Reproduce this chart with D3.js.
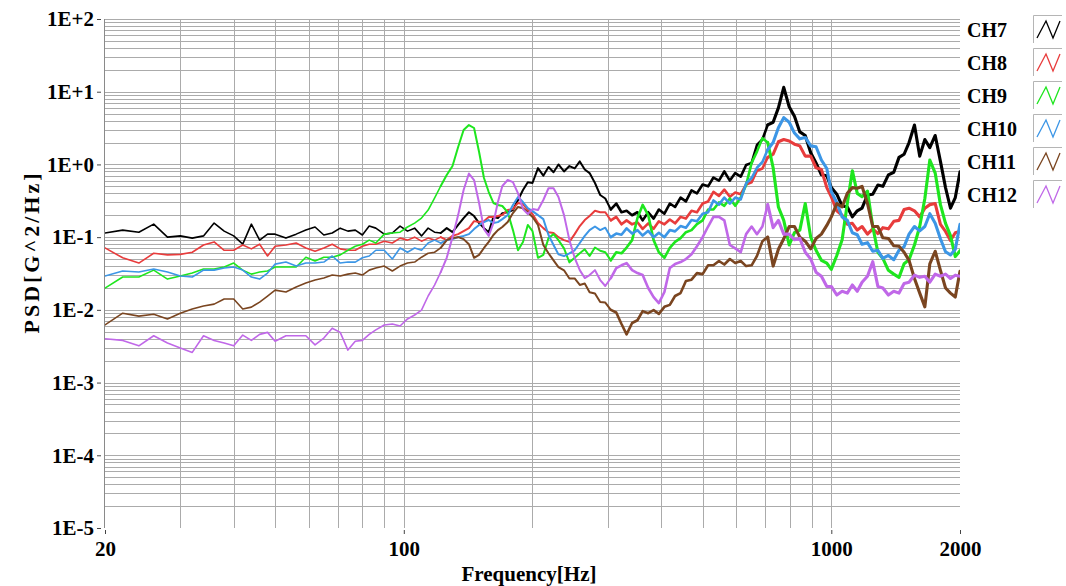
<!DOCTYPE html>
<html>
<head>
<meta charset="utf-8">
<script src="https://d3js.org/d3.v7.min.js"></script>
<style>
  body { margin: 0; background: #fff; }
  text { font-family: "Liberation Serif", "Times New Roman", serif; font-weight: bold; fill: #000; }
</style>
</head>
<body>
<svg id="chart" width="1066" height="586"></svg>
<script>
// frequency points (Hz)
var freqs = [20,22,24,26,28,30,32,34,36,38,40,42,44,46,48,50,53,56,59,62,65,68,71,74,77,80,83,86,90,94,98,
  102,106,110,114,118,122,126,130,134,138,142,146,150,154,158,162,166,170,175,180,185,190,195,
  200,206,212,218,224,230,237,244,251,258,265,272,280,288,296,305,314,323,332,342,352,362,373,384,395,407,419,431,444,457,471,485,
  500,515,530,546,562,579,596,614,632,651,670,690,710,731,752,774,797,820,844,869,895,921,948,976,
  1000,1030,1060,1090,1120,1150,1180,1215,1250,1285,1320,1360,1400,1440,1480,1520,1565,1610,1655,1700,1750,1800,1850,1900,1950,2000];

// PSD values, G^2/Hz
var ch7 = [.114,.125,.117,.151,.100,.104,.097,.104,.156,.121,.104,.080,.151,.091,.110,.110,.097,.110,.125,.138,.107,.114,.133,.121,.125,.107,.142,.133,.110,.114,.142,
  .121,.133,.104,.133,.117,.114,.133,.117,.147,.183,.22,.195,.156,.133,.117,.189,.183,.214,.22,.236,.324,.445,.57,
  .555,.89,.70,.92,.78,1.0,.80,.95,.88,1.1,.85,.76,.555,.38,.34,.24,.29,.22,.23,.20,.22,.17,.22,.18,.24,.21,.29,.26,.35,.31,.44,.40,
  .53,.50,.66,.60,.80,.60,.76,.68,.98,1.05,1.85,2.2,3.5,3.8,6.0,11.5,6.2,4.6,2.8,2.5,1.45,1.05,.72,.70,
  .48,.39,.27,.26,.19,.23,.25,.38,.39,.52,.50,.72,.78,1.25,1.38,2.0,3.48,1.3,2.2,1.7,2.5,1.1,.48,.25,.35,.79];

var ch8 = [.071,.052,.044,.060,.057,.058,.062,.078,.086,.066,.066,.078,.069,.080,.055,.075,.078,.083,.071,.064,.071,.080,.069,.066,.066,.075,.080,.080,.088,.083,.097,
  .091,.100,.088,.097,.091,.100,.091,.104,.110,.121,.133,.166,.161,.166,.189,.189,.195,.201,.236,.243,.295,.285,.236,
  .208,.156,.133,.117,.114,.100,.091,.086,.110,.142,.172,.195,.23,.22,.22,.17,.19,.15,.17,.15,.16,.13,.155,.13,.165,.15,.175,.155,.19,.18,.23,.22,
  .29,.31,.42,.37,.45,.36,.41,.39,.53,.57,.82,.88,1.25,1.38,2.05,2.2,2.1,1.9,1.8,1.3,1.3,.9,.85,.48,
  .36,.23,.20,.15,.155,.125,.14,.11,.13,.112,.135,.13,.165,.17,.24,.25,.23,.19,.25,.28,.29,.15,.12,.09,.115,.12];

var ch9 = [.0199,.0283,.0283,.0352,.0265,.0292,.0321,.0364,.0364,.0388,.044,.0352,.031,.0331,.0342,.0388,.0388,.0388,.053,.047,.053,.053,.057,.066,.075,.080,.091,.083,.110,.114,.117,
  .138,.156,.183,.236,.345,.505,.714,.95,1.74,2.97,3.48,3.17,1.48,.65,.417,.295,.277,.268,.22,.125,.066,.086,.147,
  .121,.052,.057,.097,.110,.091,.070,.045,.052,.060,.068,.055,.072,.065,.062,.048,.062,.060,.072,.091,.183,.277,.201,.091,.062,.052,.071,.086,.097,.117,.125,.151,
  .17,.24,.24,.30,.27,.34,.27,.35,.52,1.05,1.5,2.3,2.0,.9,.26,.17,.078,.115,.125,.29,.10,.066,.048,.044,
  .036,.056,.092,.29,.82,.40,.36,.43,.14,.062,.051,.035,.031,.028,.043,.049,.078,.14,.34,1.15,.76,.28,.155,.105,.054,.065];

var ch10 = [.0292,.0342,.0331,.0364,.0331,.0292,.0283,.0352,.0352,.0376,.0388,.0352,.0283,.0265,.0321,.0426,.0454,.040,.044,.044,.0454,.055,.044,.0454,.0454,.052,.055,.066,.066,.050,.071,
  .062,.071,.066,.083,.091,.083,.091,.094,.100,.104,.110,.129,.147,.161,.172,.156,.161,.177,.201,.277,.356,.304,.25,
  .228,.201,.177,.107,.078,.058,.055,.060,.066,.083,.104,.125,.14,.125,.135,.10,.112,.108,.132,.112,.125,.105,.122,.10,.115,.10,.125,.12,.142,.135,.172,.165,
  .21,.22,.32,.28,.35,.29,.35,.33,.55,.65,.90,1.08,1.6,2.0,3.2,4.4,3.8,2.7,2.25,2.35,1.8,1.75,1.15,.88,
  .42,.30,.19,.17,.115,.108,.08,.084,.064,.066,.051,.056,.049,.066,.074,.11,.14,.122,.14,.21,.155,.095,.063,.057,.068,.15];

var ch11 = [.0062,.0090,.0082,.0087,.0075,.0090,.0103,.0113,.0120,.0141,.0141,.0103,.0109,.0128,.0155,.0187,.0176,.0206,.0234,.0257,.0274,.0301,.0292,.031,.0321,.0301,.0352,.0376,.040,.0342,.040,
  .044,.0454,.053,.060,.062,.071,.091,.097,.100,.094,.080,.052,.057,.071,.086,.107,.125,.138,.161,.214,.26,.25,.22,
  .189,.147,.078,.060,.048,.0388,.035,.027,.027,.022,.023,.0175,.0168,.0128,.0126,.0100,.0092,.0064,.0046,.0066,.0072,.0096,.0090,.0099,.0088,.0110,.0117,.0155,.0170,.0250,.0260,.0320,
  .031,.041,.041,.047,.042,.050,.044,.047,.040,.041,.055,.088,.10,.04,.068,.095,.14,.14,.10,.088,.069,.096,.11,.145,
  .19,.29,.26,.40,.48,.47,.50,.29,.14,.14,.098,.096,.076,.075,.062,.048,.027,.017,.011,.043,.064,.035,.020,.017,.015,.034];

var ch12 = [.0040,.0038,.0032,.0044,.0035,.0030,.0026,.0044,.0038,.0035,.0032,.0045,.0038,.0046,.0049,.0037,.0044,.0044,.0044,.0033,.0041,.0056,.0049,.0028,.0037,.0038,.0046,.0053,.0062,.0064,.0060,
  .0075,.0085,.0099,.0155,.0219,.0331,.052,.100,.201,.445,.75,.61,.295,.129,.104,.156,.304,.505,.61,.57,.40,.243,.208,
  .243,.236,.324,.47,.47,.356,.201,.091,.052,.0352,.0274,.0301,.0352,.0257,.0213,.0274,.0376,.041,.044,.0352,.0321,.0301,.020,.0150,.0124,.0176,.0376,.0426,.0454,.050,.058,.075,
  .10,.14,.19,.19,.17,.078,.07,.062,.11,.14,.11,.14,.28,.135,.17,.11,.11,.092,.096,.062,.05,.033,.029,.021,
  .021,.016,.018,.017,.022,.018,.024,.029,.046,.021,.020,.016,.018,.017,.023,.024,.030,.028,.029,.024,.031,.029,.031,.027,.030,.029];

var channelNames = ["CH7", "CH8", "CH9", "CH10", "CH11", "CH12"];
var channelColors = ["#000000", "#e83c3c", "#1ee61e", "#3c96e6", "#7a4520", "#c068e8"];
var channelValues = [ch7, ch8, ch9, ch10, ch11, ch12];

var yTicks = [1e-5, 1e-4, 1e-3, 1e-2, 1e-1, 1, 10, 100];
var yTickLabels = ["1E-5", "1E-4", "1E-3", "1E-2", "1E-1", "1E+0", "1E+1", "1E+2"];
var xTicks = [20, 100, 1000, 2000];
var xGridValues = [30, 40, 50, 60, 70, 80, 90, 100, 200, 300, 400, 500, 600, 700, 800, 900, 1000];

// the raw spectra get denser (and look thicker) towards high frequency,
// so each curve is drawn in pieces with a growing stroke width
var strokeBands = [[20, 122, 1.6], [122, 305, 2.0], [305, 710, 2.6], [710, 2000, 3.1]];

var svg = d3.select("#chart");

var x = d3.scaleLog().domain([20, 2000]).range([105, 960]);
var y = d3.scaleLog().domain([1e-5, 100]).range([528, 19]);

// horizontal grid: every 1..9 step of each decade, no line at 1E-5
var yGridValues = [];
yTicks.slice(0, -1).forEach(function(d) {
  for (var m = 1; m <= 9; m++) yGridValues.push(d * m);
});
yGridValues.push(100);
yGridValues = yGridValues.slice(1);

svg.append("g").selectAll("line")
  .data(yGridValues)
  .enter().append("line")
  .attr("x1", x(20))
  .attr("x2", x(2000))
  .attr("y1", function(d) { return Math.round(y(d)) + 0.5; })
  .attr("y2", function(d) { return Math.round(y(d)) + 0.5; })
  .style("stroke", "#ababab")
  .style("stroke-width", 1);

// vertical grid stops at 1000 Hz
svg.append("g").selectAll("line")
  .data(xGridValues)
  .enter().append("line")
  .attr("x1", function(d) { return Math.round(x(d)) + 0.5; })
  .attr("x2", function(d) { return Math.round(x(d)) + 0.5; })
  .attr("y1", y(100))
  .attr("y2", y(1e-5))
  .style("stroke", "#ababab")
  .style("stroke-width", 1);

// left axis line
svg.append("line")
  .attr("x1", 104.5).attr("x2", 104.5)
  .attr("y1", y(100)).attr("y2", y(1e-5))
  .style("stroke", "#8a8a8a");

// Y axis ticks + labels
var yAxis = svg.append("g")
  .attr("transform", "translate(101,0)")
  .call(d3.axisLeft(y)
    .tickValues(yTicks)
    .tickFormat(function(d, i) { return yTickLabels[i]; })
    .tickSize(4)
    .tickSizeOuter(0)
    .tickPadding(3));
yAxis.select(".domain").remove();
yAxis.selectAll("line").style("stroke", "#444");
yAxis.selectAll("text").style("font-size", "21px").style("font-family", null);

// X axis ticks + labels
var xAxis = svg.append("g")
  .attr("transform", "translate(0,530)")
  .call(d3.axisBottom(x)
    .tickValues(xTicks)
    .tickFormat(d3.format("d"))
    .tickSize(4)
    .tickSizeOuter(0)
    .tickPadding(7));
xAxis.select(".domain").remove();
xAxis.selectAll("line").style("stroke", "#444");
xAxis.selectAll("text").style("font-size", "21px").style("font-family", null);

// axis titles
svg.append("text")
  .attr("x", 529)
  .attr("y", 581)
  .attr("text-anchor", "middle")
  .style("font-size", "21px")
  .text("Frequency[Hz]");

svg.append("text")
  .attr("transform", "translate(39,252) rotate(-90)")
  .attr("text-anchor", "middle")
  .style("font-size", "22px")
  .style("letter-spacing", "3px")
  .text("PSD[G^2/Hz]");

// clip the curves to the plot area
svg.append("clipPath")
  .attr("id", "plotClip")
  .append("rect")
  .attr("x", 105).attr("y", 19)
  .attr("width", 855).attr("height", 509);

var line = d3.line()
  .x(function(d) { return x(d[0]); })
  .y(function(d) { return y(d[1]); });

// Add the channel curves.
var curves = svg.append("g")
  .attr("clip-path", "url(#plotClip)")
  .selectAll("g")
  .data(channelValues)
  .enter().append("g")
  .style("stroke", function(d, i) { return channelColors[i]; });

curves.selectAll("path")
  .data(function(vals) {
    return strokeBands.map(function(b) {
      var pts = [];
      freqs.forEach(function(f, i) {
        if (f >= b[0] && f <= b[1]) pts.push([f, vals[i]]);
      });
      return { pts: pts, width: b[2] };
    });
  })
  .enter().append("path")
  .attr("d", function(d) { return line(d.pts); })
  .style("fill", "none")
  .style("stroke-width", function(d) { return d.width; })
  .style("stroke-linejoin", "round")
  .style("stroke-linecap", "round");

// Add the legend.
var legend = svg.selectAll(".legend")
  .data(channelNames)
  .enter().append("g")
  .attr("class", "legend")
  .attr("transform", function(d, i) { return "translate(0," + (15 + i * 33) + ")"; });

legend.append("text")
  .attr("x", 967)
  .attr("y", 22)
  .style("font-size", "20px")
  .text(function(d) { return d; });

legend.append("path")
  .attr("d", "M1033.5,28V0.5H1062")
  .style("fill", "none")
  .style("stroke", "#b5b5b5");

legend.append("path")
  .attr("d", "M1037,23L1046,6L1053,23L1060,6")
  .style("fill", "none")
  .style("stroke", function(d, i) { return channelColors[i]; })
  .style("stroke-width", 1.3);
</script>
</body>
</html>
